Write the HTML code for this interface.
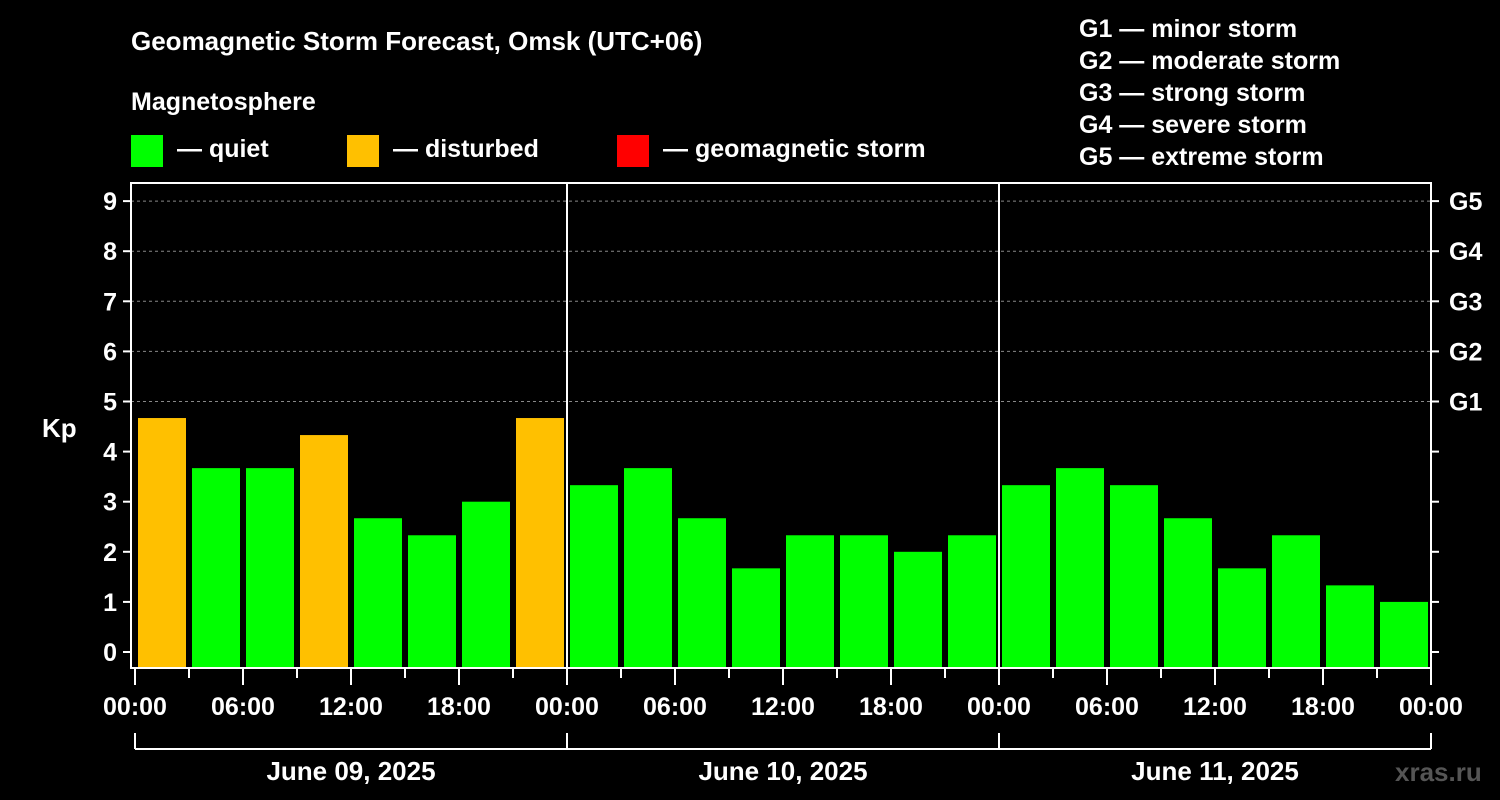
<!DOCTYPE html>
<html><head><meta charset="utf-8"><style>
body{margin:0;background:#000;}
svg{display:block;font-family:"Liberation Sans",Arial,sans-serif;font-weight:bold;}
</style></head><body>
<svg id="c" width="1500" height="800">
<rect width="1500" height="800" fill="#000"/>
<text x="131" y="50" fill="#fff" font-size="26">Geomagnetic Storm Forecast, Omsk (UTC+06)</text>
<text x="131" y="110" fill="#fff" font-size="25">Magnetosphere</text>
<g><rect x="131" y="135" width="32" height="32" fill="#00ff00"/><text x="177" y="157" fill="#fff" font-size="25">— quiet</text></g>
<g><rect x="347" y="135" width="32" height="32" fill="#ffc000"/><text x="393" y="157" fill="#fff" font-size="25">— disturbed</text></g>
<g><rect x="617" y="135" width="32" height="32" fill="#ff0000"/><text x="663" y="157" fill="#fff" font-size="25">— geomagnetic storm</text></g>
<g fill="#fff" font-size="25">
<text x="1079" y="37">G1 — minor storm</text>
<text x="1079" y="69">G2 — moderate storm</text>
<text x="1079" y="101">G3 — strong storm</text>
<text x="1079" y="133">G4 — severe storm</text>
<text x="1079" y="165">G5 — extreme storm</text>
</g>
<text x="42" y="437" fill="#fff" font-size="26">Kp</text>
<text x="1395" y="781" fill="#555" font-size="26">xras.ru</text>
<g id="g"></g>
</svg>
<script>
const days=["June 09, 2025","June 10, 2025","June 11, 2025"];
const kpValues=[4.67,3.67,3.67,4.33,2.67,2.33,3,4.67, 3.33,3.67,2.67,1.67,2.33,2.33,2,2.33, 3.33,3.67,3.33,2.67,1.67,2.33,1.33,1];
const yTicks=[0,1,2,3,4,5,6,7,8,9];
const gLabels=["G1","G2","G3","G4","G5"];
const hourLabels=["00:00","06:00","12:00","18:00"];
const NS="http://www.w3.org/2000/svg";
const g=document.getElementById('g');
const X0=135,HPX=18,L=131,R=1431,T=183,B=668;
const x=h=>X0+h*HPX;
const y=v=>652-50.1*v;
function mk(t,a,p){const e=document.createElementNS(NS,t);for(const k in a)e.setAttribute(k,a[k]);(p||g).appendChild(e);return e;}
yTicks.forEach(v=>{
  if(v>=5){const gl=mk('line',{x1:L,x2:R,y1:y(v),y2:y(v),stroke:'#888','stroke-dasharray':'3,3','stroke-width':1});
  
  }
  mk('line',{x1:L-8,x2:L,y1:y(v),y2:y(v),stroke:'#fff','stroke-width':2});
  mk('line',{x1:R,x2:R+8,y1:y(v),y2:y(v),stroke:'#fff','stroke-width':2});
  const t=mk('text',{x:L-14,y:y(v)+9,fill:'#fff','font-size':25,'text-anchor':'end'});t.textContent=v;
  
  
});
gLabels.forEach((s,i)=>{const t=mk('text',{x:R+18,y:y(5+i)+9,fill:'#fff','font-size':25});t.textContent=s;
  
  });
kpValues.forEach((v,i)=>{
  const c=v>=5?'#ff0000':(v>=4?'#ffc000':'#00ff00');
  const r=mk('rect',{x:x(i*3)+3,width:3*HPX-6,y:y(v),height:B-y(v),fill:c});
  
  
});
mk('rect',{x:L,y:T,width:R-L,height:B-T,fill:'none',stroke:'#fff','stroke-width':2});
days.forEach((d,di)=>{
  if(di>0){mk('line',{x1:x(di*24),x2:x(di*24),y1:T,y2:B,stroke:'#fff','stroke-width':2});}
  for(let h=0;h<24;h+=3){const xx=x(di*24+h);mk('line',{x1:xx,x2:xx,y1:B,y2:B+(h%6?10:17),stroke:'#fff','stroke-width':2});}
  hourLabels.forEach((s,k)=>{const t=mk('text',{x:x(di*24+k*6),y:715,fill:'#fff','font-size':25,'text-anchor':'middle'});t.textContent=s;
    
    });
  mk('line',{x1:x(di*24),x2:x(di*24),y1:733,y2:749,stroke:'#fff','stroke-width':2});
  const t=mk('text',{x:x(di*24+12),y:780,fill:'#fff','font-size':26,'text-anchor':'middle'});t.textContent=d;
  
  
});
mk('line',{x1:x(72),x2:x(72),y1:B,y2:B+17,stroke:'#fff','stroke-width':2});
const e=mk('text',{x:x(72),y:715,fill:'#fff','font-size':25,'text-anchor':'middle'});e.textContent="00:00";
mk('line',{x1:x(72),x2:x(72),y1:733,y2:749,stroke:'#fff','stroke-width':2});
mk('line',{x1:x(0),x2:x(72),y1:749,y2:749,stroke:'#fff','stroke-width':2});
</script>
</body></html>
